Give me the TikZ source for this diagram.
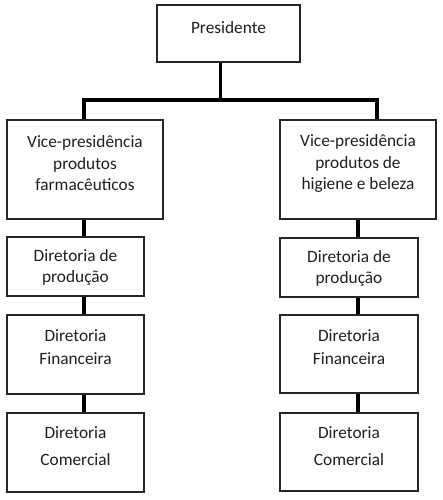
\documentclass[tikz,border=0pt]{standalone}
\usepackage{fontspec}
\setmainfont{Carlito}
\begin{document}
\begin{tikzpicture}[x=1pt,y=-1pt,
  box/.style={draw=black!85, line width=1.2pt, inner sep=0pt, fill=white},
  txt/.style={font=\fontsize{17.3}{21.5}\selectfont, align=center, text=black!88, inner sep=0pt},
  conn/.style={draw=black, line width=3.2pt}]
\useasboundingbox[fill=white] (0,0) rectangle (443,500);

% top
\node[box, minimum width=143pt, minimum height=57pt,
  label={[txt,yshift=5.5pt]center:Presidente}] (pres) at (228.5,33.5) {};

% vice-presidencies
\node[box, minimum width=156pt, minimum height=99pt,
  label={[txt,yshift=6pt]center:Vice-presidência\\produtos\\farmacêuticos}] (vp1) at (85,169.5) {};
\node[box, minimum width=156pt, minimum height=99pt,
  label={[txt,yshift=6pt]center:Vice-presidência\\produtos de\\higiene e beleza}] (vp2) at (358,169.5) {};

% left column
\node[box, minimum width=137pt, minimum height=59pt,
  label={[txt,yshift=-1pt]center:Diretoria de\\produção}] (d1) at (75.5,266.5) {};
\node[box, minimum width=137pt, minimum height=79pt,
  label={[txt,yshift=7pt,font=\fontsize{17.3}{23}\selectfont]center:Diretoria\\Financeira}] (f1) at (75.5,354.5) {};
\node[box, minimum width=137pt, minimum height=79pt,
  label={[txt,yshift=6pt,font=\fontsize{17.3}{27}\selectfont]center:Diretoria\\Comercial}] (c1) at (75.5,452.5) {};

% right column
\node[box, minimum width=138pt, minimum height=59pt,
  label={[txt,yshift=-1pt]center:Diretoria de\\produção}] (d2) at (349,267.5) {};
\node[box, minimum width=138pt, minimum height=78pt,
  label={[txt,yshift=7pt,font=\fontsize{17.3}{23}\selectfont]center:Diretoria\\Financeira}] (f2) at (349,354) {};
\node[box, minimum width=138pt, minimum height=78pt,
  label={[txt,yshift=6pt,font=\fontsize{17.3}{27}\selectfont]center:Diretoria\\Comercial}] (c2) at (349,452) {};

% connectors
\coordinate (hub) at (220.7,100);
\draw[conn] ([xshift=-7.8pt]pres.south) -- (hub);
\draw[conn] ([xshift=-1pt]vp1.north) |- (hub);
\draw[conn] ([xshift=19pt]vp2.north) |- (hub);

\draw[conn] ([xshift=-1pt]vp1.south) -- ([xshift=-1pt]vp1.south |- d1.north);
\draw[conn] ([xshift=-1pt]vp1.south |- d1.south) -- ([xshift=-1pt]vp1.south |- f1.north);
\draw[conn] ([xshift=-1pt]vp1.south |- f1.south) -- ([xshift=-1pt]vp1.south |- c1.north);

\draw[conn] (vp2.south) -- (vp2.south |- d2.north);
\draw[conn] (vp2.south |- d2.south) -- (vp2.south |- f2.north);
\draw[conn] (vp2.south |- f2.south) -- (vp2.south |- c2.north);
\end{tikzpicture}
\end{document}
